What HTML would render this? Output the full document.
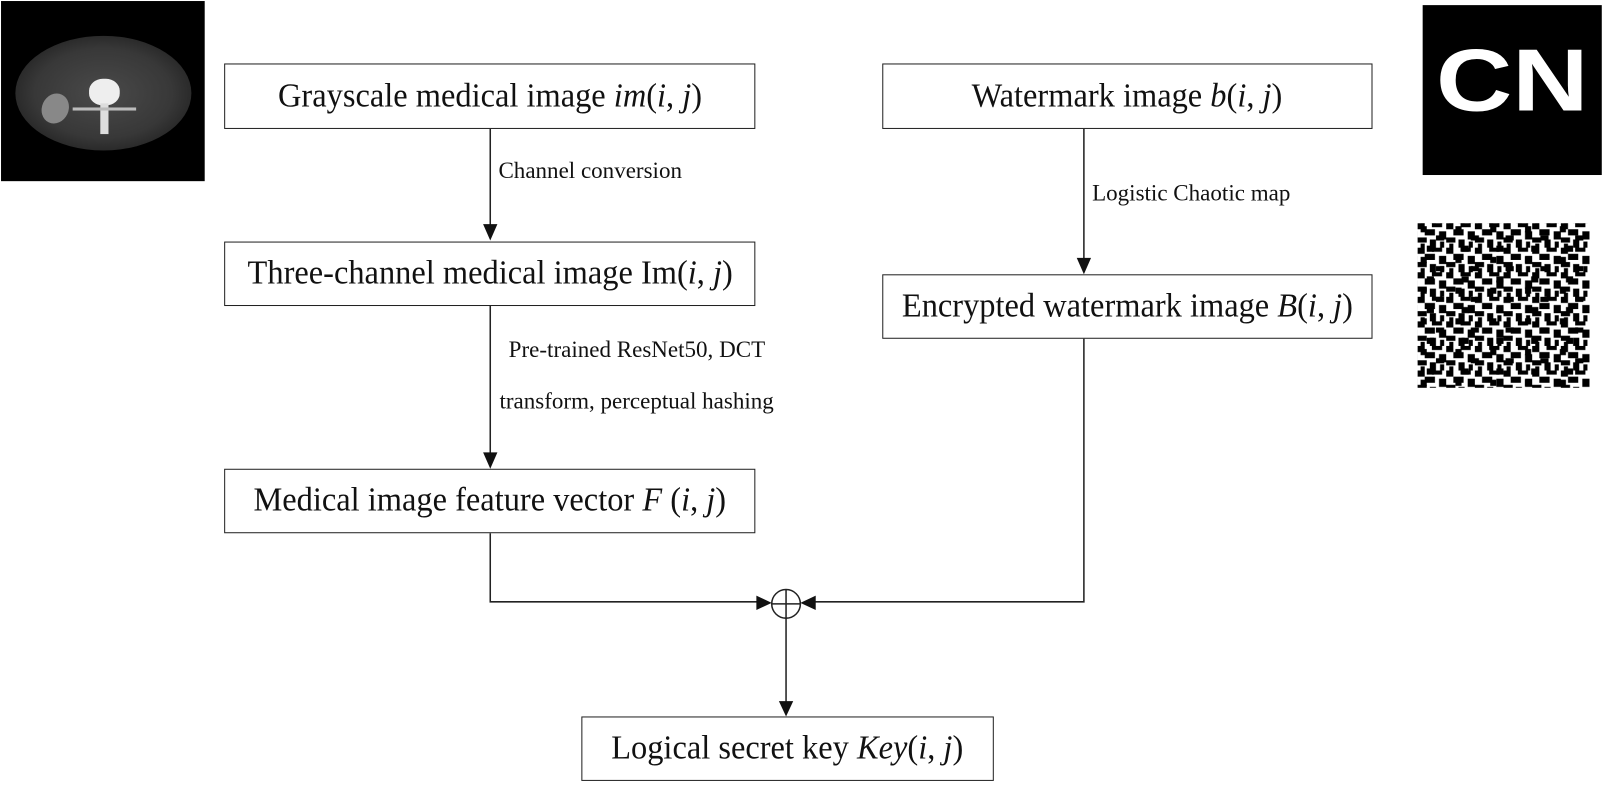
<!DOCTYPE html>
<html><head><style>
body{margin:0;width:1605px;height:779px;background:#fff;position:relative;overflow:hidden;font-family:"Liberation Serif",serif;}
#w{position:absolute;left:0;top:0;width:1568px;height:761px;transform:scale(1.0235);transform-origin:0 0;}
.b{position:absolute;border:1.5px solid #222;box-sizing:border-box;display:flex;align-items:center;justify-content:center;font-size:33px;color:#111;white-space:nowrap;}
.b span{display:inline-block;transform:scaleX(0.96);}
.l{position:absolute;font-size:22.5px;color:#111;white-space:nowrap;}
i{font-style:italic}
</style></head><body><div id="w">
<div style="position:absolute;left:1px;top:1px;width:199px;height:176px;background:#000;overflow:hidden;">
<div style="position:absolute;left:14px;top:34px;width:172px;height:112px;border-radius:50%;background:radial-gradient(ellipse at 50% 50%,#4a4a4a 0%,#383838 55%,#222 80%,#0a0a0a 100%);"></div>
<div style="position:absolute;left:40px;top:90px;width:26px;height:30px;border-radius:50%;background:#888;transform:rotate(25deg);"></div>
<div style="position:absolute;left:86px;top:76px;width:30px;height:26px;border-radius:45%;background:#eee;"></div>
<div style="position:absolute;left:97px;top:100px;width:8px;height:30px;background:#ddd;"></div>
<div style="position:absolute;left:70px;top:104px;width:62px;height:3px;background:#bbb;"></div>
</div>
<div style="position:absolute;left:1390px;top:5px;width:175px;height:166px;background:#000;overflow:hidden;">
<div style="position:absolute;left:0;top:24px;width:175px;text-align:center;color:#fff;font:bold 86px 'Liberation Sans',sans-serif;line-height:100px;transform:scaleX(1.2);">CN</div>
</div>
<svg style="position:absolute;left:1385px;top:218px" width="168" height="161">
<defs><pattern id="p" width="28" height="24" patternUnits="userSpaceOnUse">
<rect width="28" height="24" fill="#fff"/>
<rect x="0" y="0" width="7" height="6" fill="#000"/><rect x="14" y="0" width="10" height="4" fill="#000"/>
<rect x="7" y="6" width="10" height="6" fill="#000"/><rect x="21" y="8" width="7" height="8" fill="#000"/>
<rect x="0" y="14" width="9" height="5" fill="#000"/><rect x="12" y="16" width="6" height="8" fill="#000"/>
<rect x="3" y="20" width="4" height="4" fill="#000"/><rect x="22" y="18" width="4" height="6" fill="#000"/>
</pattern><pattern id="q" width="34" height="30" patternUnits="userSpaceOnUse">
<rect x="3" y="3" width="6" height="6" fill="#000"/><rect x="18" y="12" width="8" height="5" fill="#000"/><rect x="9" y="22" width="7" height="6" fill="#000"/>
</pattern></defs>
<rect width="168" height="161" fill="url(#p)"/><rect width="168" height="161" fill="url(#q)"/>
</svg>
<div class="b" style="left:219px;top:62px;width:519px;height:64px;"><span>Grayscale medical image&nbsp;<i>im</i>(<i>i</i>,&nbsp;<i>j</i>)</span></div>
<div class="b" style="left:219px;top:236px;width:519px;height:63px;"><span>Three-channel medical image Im(<i>i</i>,&nbsp;<i>j</i>)</span></div>
<div class="b" style="left:219px;top:458px;width:519px;height:63px;"><span>Medical image feature vector&nbsp;<i>F</i>&nbsp;(<i>i</i>,&nbsp;<i>j</i>)</span></div>
<div class="b" style="left:862px;top:62px;width:479px;height:64px;"><span>Watermark image&nbsp;<i>b</i>(<i>i</i>,&nbsp;<i>j</i>)</span></div>
<div class="b" style="left:862px;top:268px;width:479px;height:63px;"><span>Encrypted watermark image&nbsp;<i>B</i>(<i>i</i>,&nbsp;<i>j</i>)</span></div>
<div class="b" style="left:568px;top:700px;width:403px;height:63px;"><span>Logical secret key&nbsp;<i>Key</i>(<i>i</i>,&nbsp;<i>j</i>)</span></div>
<div class="l" style="left:487px;top:154px;">Channel conversion</div>
<div class="l" style="left:497px;top:329px;">Pre-trained ResNet50, DCT</div>
<div class="l" style="left:488px;top:379px;">transform, perceptual hashing</div>
<div class="l" style="left:1067px;top:176px;">Logistic Chaotic map</div>
<svg style="position:absolute;left:0;top:0" width="1568" height="779">
<g stroke="#222" stroke-width="1.5" fill="none">
<line x1="479" y1="126" x2="479" y2="220"/>
<line x1="479" y1="299" x2="479" y2="443"/>
<line x1="1059" y1="126" x2="1059" y2="253"/>
<polyline points="479,521 479,588 740,588"/>
<polyline points="1059,331 1059,588 796,588"/>
<line x1="768" y1="604" x2="768" y2="686"/>
<circle cx="768" cy="590" r="14"/>
<line x1="754" y1="590" x2="782" y2="590"/><line x1="768" y1="576" x2="768" y2="604"/>
</g>
<g fill="#111">
<polygon points="472,219 486,219 479,235"/>
<polygon points="472,442 486,442 479,458"/>
<polygon points="1052,252 1066,252 1059,268"/>
<polygon points="739,582 739,596 754,589"/>
<polygon points="797,582 797,596 782,589"/>
<polygon points="761,685 775,685 768,700"/>
</g>
</svg>
</div></body></html>
